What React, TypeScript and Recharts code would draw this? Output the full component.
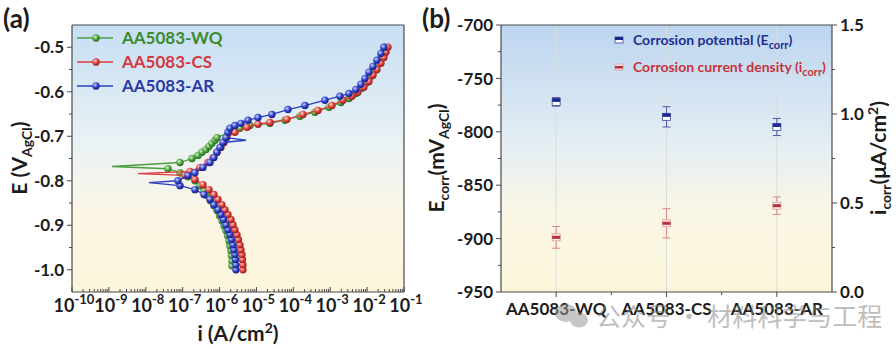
import React from "react";
import {
  ScatterChart,
  ComposedChart,
  Scatter,
  XAxis,
  YAxis,
  CartesianGrid,
  ReferenceLine,
  ErrorBar,
} from "recharts";

// ─── Panel (a): polarization curves, [i (A/cm²), E (V vs AgCl), Ecorr spike] ──
const WQ_CURVE: [number, number, number?][] = [
  [2.17e-6, -0.991], [2.17e-6, -0.98], [2.1e-6, -0.968], [2.04e-6, -0.957],
  [1.91e-6, -0.946], [1.8e-6, -0.935], [1.64e-6, -0.923], [1.49e-6, -0.912],
  [1.32e-6, -0.901], [1.16e-6, -0.89], [9.93e-7, -0.878], [8.51e-7, -0.867],
  [7.05e-7, -0.856], [5.66e-7, -0.845], [4.56e-7, -0.833], [3.78e-7, -0.822],
  [2.94e-7, -0.811], [2.15e-7, -0.8], [1.39e-7, -0.791], [8.45e-8, -0.782],
  [4.0e-8, -0.773], [1.21e-9, -0.768, 1],
  [8.45e-8, -0.759], [1.79e-7, -0.75], [2.6e-7, -0.743], [3.33e-7, -0.736],
  [4.28e-7, -0.73], [5.16e-7, -0.723], [6.22e-7, -0.716], [7.5e-7, -0.709],
  [8.51e-7, -0.703], [1.8e-6, -0.691], [3.57e-6, -0.682], [6.67e-6, -0.676],
  [2.32e-5, -0.671], [5.92e-5, -0.664], [1.51e-4, -0.655], [3.85e-4, -0.646],
  [9.23e-4, -0.635], [1.95e-3, -0.624], [3.21e-3, -0.615], [4.97e-3, -0.604],
  [7.22e-3, -0.592], [9.89e-3, -0.579], [1.27e-2, -0.565], [1.63e-2, -0.552],
  [1.96e-2, -0.538], [2.37e-2, -0.525], [2.68e-2, -0.511], [3.03e-2, -0.5],
];

const CS_CURVE: [number, number, number?][] = [
  [4.31e-6, -1.0], [4.31e-6, -0.989], [4.18e-6, -0.977], [4.05e-6, -0.966],
  [3.8e-6, -0.955], [3.57e-6, -0.944], [3.25e-6, -0.932], [2.96e-6, -0.921],
  [2.61e-6, -0.91], [2.31e-6, -0.899], [2.04e-6, -0.887], [1.69e-6, -0.876],
  [1.4e-6, -0.865], [1.16e-6, -0.854], [9.06e-7, -0.842], [7.05e-7, -0.831],
  [5.16e-7, -0.82], [3.55e-7, -0.809], [2.15e-7, -0.797], [1.15e-7, -0.788],
  [6.15e-9, -0.784, 1],
  [1.58e-7, -0.779], [2.94e-7, -0.77], [4.85e-7, -0.759], [6.62e-7, -0.748],
  [8.51e-7, -0.736], [1.09e-6, -0.725], [1.32e-6, -0.714], [1.59e-6, -0.703],
  [2.61e-6, -0.691], [5.53e-6, -0.68], [1.1e-5, -0.673], [2.32e-5, -0.669],
  [6.71e-5, -0.662], [1.82e-4, -0.651], [4.65e-4, -0.642], [1.11e-3, -0.631],
  [2.21e-3, -0.619], [3.87e-3, -0.61], [5.64e-3, -0.601], [8.18e-3, -0.59],
  [1.12e-2, -0.577], [1.44e-2, -0.563], [1.85e-2, -0.55], [2.37e-2, -0.536],
  [2.85e-2, -0.523], [3.23e-2, -0.511], [3.66e-2, -0.5],
];

const AR_CURVE: [number, number, number?][] = [
  [2.78e-6, -1.0], [2.78e-6, -0.989], [2.7e-6, -0.977], [2.61e-6, -0.966],
  [2.45e-6, -0.955], [2.31e-6, -0.944], [2.1e-6, -0.932], [1.91e-6, -0.921],
  [1.69e-6, -0.91], [1.49e-6, -0.899], [1.28e-6, -0.887], [1.09e-6, -0.876],
  [9.06e-7, -0.865], [7.05e-7, -0.854], [5.5e-7, -0.842], [3.78e-7, -0.831],
  [2.15e-7, -0.82], [8.45e-8, -0.811], [1.22e-8, -0.804, 1],
  [7.46e-8, -0.8], [1.39e-7, -0.788], [2.15e-7, -0.782], [3.55e-7, -0.77],
  [5.5e-7, -0.759], [7.05e-7, -0.748], [8.51e-7, -0.736], [1.03e-6, -0.725],
  [1.24e-6, -0.714], [5.19e-6, -0.709, 1], [1.49e-6, -0.703], [1.69e-6, -0.691],
  [1.91e-6, -0.682], [2.61e-6, -0.676], [3.8e-6, -0.671], [5.89e-6, -0.664],
  [1.1e-5, -0.658], [2.63e-5, -0.651], [7.14e-5, -0.64], [2.06e-4, -0.631],
  [7.18e-4, -0.619], [1.83e-3, -0.61], [3.21e-3, -0.604], [4.97e-3, -0.595],
  [6.79e-3, -0.583], [8.71e-3, -0.57], [1.12e-2, -0.556], [1.44e-2, -0.543],
  [1.85e-2, -0.529], [2.37e-2, -0.514], [2.85e-2, -0.5],
];

const I_DECADES = [-10, -9, -8, -7, -6, -5, -4, -3, -2, -1];
const I_MINOR_STEPS = [2, 3, 4, 5, 6, 7, 8, 9];
const E_TICKS = [
  -1.0, -0.95, -0.9, -0.85, -0.8, -0.75, -0.7, -0.65, -0.6, -0.55, -0.5,
];

// ─── Panel (b): corrosion parameters ─────────────────────────────────────────
const SAMPLES = ["AA5083-WQ", "AA5083-CS", "AA5083-AR"];
const ECORR = [-772, -786, -795.5];
const ECORR_ERR = [4, 9.5, 8];
const ICORR = [0.307, 0.386, 0.485];
const ICORR_ERR = [0.061, 0.082, 0.049];
const ECORR_TICKS = [
  -950, -925, -900, -875, -850, -825, -800, -775, -750, -725, -700,
];
const ICORR_TICKS = [0, 0.25, 0.5, 0.75, 1.0, 1.25, 1.5];

// ─── Styles ───────────────────────────────────────────────────────────────────
const FONT = 'Lato, "Open Sans", "DejaVu Sans", sans-serif';
const INK = "#1c1c1c";
const AXIS = "#4a4a4a";

const SERIES = [
  { name: "AA5083-WQ", data: WQ_CURVE, line: "#4c9e3e", text: "#3d8a2e", grad: "ballG" },
  { name: "AA5083-CS", data: CS_CURVE, line: "#e03c3c", text: "#d43a3e", grad: "ballR" },
  { name: "AA5083-AR", data: AR_CURVE, line: "#2c3cc0", text: "#2c3aa6", grad: "ballB" },
];

const toPoints = (rows: [number, number, number?][]) =>
  rows.map(([i, e, s]) => ({ i, e, spike: s === 1 }));

const isDecade = (v: number) => {
  const p = Math.log10(v);
  return Math.abs(p - Math.round(p)) < 1e-6;
};

// ─── Ticks ────────────────────────────────────────────────────────────────────
function LogTick({ x, y, payload }: any) {
  const v = payload.value;
  const major = isDecade(v);
  return (
    <g>
      <line x1={x} y1={y} x2={x} y2={y - (major ? 5 : 3)} stroke={AXIS} strokeWidth={1} />
      {major && (
        <text x={x + 2} y={y + 20} textAnchor="middle" fontFamily={FONT} fontWeight={700} fontSize={18} fill={INK}>
          10
          <tspan dy={-8} fontSize={13}>
            {Math.round(Math.log10(v))}
          </tspan>
        </text>
      )}
    </g>
  );
}

function ETick({ x, y, payload }: any) {
  const v = payload.value;
  const major = Math.abs(v * 10 - Math.round(v * 10)) < 1e-6;
  return (
    <g>
      <line x1={x} y1={y} x2={x - (major ? 5 : 3)} y2={y} stroke={AXIS} strokeWidth={1} />
      {major && (
        <text x={x - 8} y={y} dy="0.36em" textAnchor="end" fontFamily={FONT} fontWeight={700} fontSize={17} fill={INK}>
          {v.toFixed(1)}
        </text>
      )}
    </g>
  );
}

function SideTick({ x, y, payload, side, step, digits }: any) {
  const v = payload.value;
  const major = Math.abs(v / step - Math.round(v / step)) < 1e-6;
  const dir = side === "left" ? -1 : 1;
  return (
    <g>
      <line x1={x} y1={y} x2={x + dir * (major ? 5 : 3)} y2={y} stroke={AXIS} strokeWidth={1} />
      {major && (
        <text
          x={x + dir * 8}
          y={y}
          dy="0.36em"
          textAnchor={side === "left" ? "end" : "start"}
          fontFamily={FONT}
          fontWeight={700}
          fontSize={17}
          fill={INK}
        >
          {v.toFixed(digits)}
        </text>
      )}
    </g>
  );
}

function CatTick({ x, y, payload }: any) {
  const v = payload.value;
  const center = Math.abs(v - Math.floor(v) - 0.5) < 1e-6;
  return (
    <g>
      <line x1={x} y1={y} x2={x} y2={y + (center ? 5 : 3)} stroke={AXIS} strokeWidth={1} />
      {center && (
        <text x={x} y={y + 23} textAnchor="middle" fontFamily={FONT} fontWeight={700} fontSize={17} fill={INK}>
          {SAMPLES[Math.floor(v)]}
        </text>
      )}
    </g>
  );
}

// ─── Markers ──────────────────────────────────────────────────────────────────
const ballShape = (grad: string) => (props: any) => {
  if (props.payload?.spike) return <g />;
  return <circle cx={props.cx} cy={props.cy} r={3.7} fill={`url(#${grad})`} />;
};

function EcorrMark({ cx, cy }: any) {
  return (
    <g>
      <rect x={cx - 4} y={cy - 3.5} width={8} height={7} fill="#fff" stroke="#3a46a0" strokeWidth={0.8} />
      <rect x={cx - 4} y={cy - 3.5} width={8} height={3.5} fill="#1d2a8c" />
    </g>
  );
}

function IcorrMark({ cx, cy }: any) {
  return (
    <g>
      <rect x={cx - 4} y={cy - 3.5} width={8} height={7} fill="#fbeaea" stroke="#dc9a9a" strokeWidth={0.8} />
      <rect x={cx - 4} y={cy - 1.5} width={8} height={3} fill="#b8303a" />
    </g>
  );
}

// ─── Panels ───────────────────────────────────────────────────────────────────
function PanelA() {
  const iTicks = I_DECADES.flatMap((p) =>
    p < -1 ? [10 ** p, ...I_MINOR_STEPS.map((k) => k * 10 ** p)] : [10 ** p],
  );
  return (
    <ScatterChart width={440} height={350} margin={{ top: 25, right: 36, bottom: 28, left: 22 }}>
      <CartesianGrid fill="url(#bgA)" horizontal={false} vertical={false} />
      <XAxis
        type="number"
        dataKey="i"
        scale="log"
        domain={[1e-10, 1e-1]}
        allowDataOverflow
        ticks={iTicks}
        interval={0}
        tick={(p: any) => <LogTick {...p} />}
        tickLine={false}
        tickSize={0}
        tickMargin={0}
        axisLine={{ stroke: AXIS, strokeWidth: 1.2 }}
        height={30}
      />
      <YAxis
        type="number"
        dataKey="e"
        domain={[-1.05, -0.45]}
        allowDataOverflow
        ticks={E_TICKS}
        interval={0}
        tick={(p: any) => <ETick {...p} />}
        tickLine={false}
        tickSize={0}
        tickMargin={0}
        axisLine={{ stroke: AXIS, strokeWidth: 1.2 }}
        width={50}
      />
      <ReferenceLine y={-0.45} stroke={AXIS} strokeWidth={1.2} />
      <ReferenceLine x={1e-1} stroke={AXIS} strokeWidth={1.2} />
      {SERIES.map((s) => (
        <Scatter
          key={s.name}
          name={s.name}
          data={toPoints(s.data)}
          line={{ stroke: s.line, strokeWidth: 1.3 }}
          lineType="joint"
          shape={ballShape(s.grad)}
          isAnimationActive={false}
        />
      ))}
    </ScatterChart>
  );
}

function PanelB() {
  const catTicks = [0.5, 1, 1.5, 2, 2.5];
  const eData = SAMPLES.map((name, k) => ({ name, x: k + 0.5, ecorr: ECORR[k], err: ECORR_ERR[k] }));
  const iData = SAMPLES.map((name, k) => ({ name, x: k + 0.5, icorr: ICORR[k], err: ICORR_ERR[k] }));
  return (
    <ComposedChart width={456} height={350} margin={{ top: 25, right: 14, bottom: 28, left: 11 }}>
      <CartesianGrid fill="url(#bgB)" horizontal={false} vertical={false} />
      <XAxis
        type="number"
        dataKey="x"
        domain={[0, 3]}
        ticks={catTicks}
        interval={0}
        tick={(p: any) => <CatTick {...p} />}
        tickLine={false}
        tickSize={0}
        tickMargin={0}
        axisLine={{ stroke: AXIS, strokeWidth: 1.2 }}
        height={30}
      />
      <YAxis
        yAxisId="left"
        type="number"
        dataKey="ecorr"
        domain={[-950, -700]}
        ticks={ECORR_TICKS}
        interval={0}
        tick={(p: any) => <SideTick {...p} side="left" step={50} digits={0} />}
        tickLine={false}
        tickSize={0}
        tickMargin={0}
        axisLine={{ stroke: AXIS, strokeWidth: 1.2 }}
        width={50}
      />
      <YAxis
        yAxisId="right"
        orientation="right"
        type="number"
        dataKey="icorr"
        domain={[0, 1.5]}
        ticks={ICORR_TICKS}
        interval={0}
        tick={(p: any) => <SideTick {...p} side="right" step={0.5} digits={1} />}
        tickLine={false}
        tickSize={0}
        tickMargin={0}
        axisLine={{ stroke: AXIS, strokeWidth: 1.2 }}
        width={50}
      />
      {eData.map((d) => (
        <ReferenceLine key={d.name} yAxisId="left" x={d.x} stroke="#dcdcdc" strokeWidth={1} />
      ))}
      <ReferenceLine yAxisId="left" y={-700} stroke={AXIS} strokeWidth={1.2} />
      <Scatter yAxisId="left" name="Ecorr" data={eData} shape={EcorrMark} isAnimationActive={false}>
        <ErrorBar dataKey="err" direction="y" width={4} stroke="#4f5a9c" strokeWidth={1} />
      </Scatter>
      <Scatter yAxisId="right" name="icorr" data={iData} shape={IcorrMark} isAnimationActive={false}>
        <ErrorBar dataKey="err" direction="y" width={4} stroke="#d68a8a" strokeWidth={1} />
      </Scatter>
    </ComposedChart>
  );
}

// ─── Titles, legends and labels ───────────────────────────────────────────────
function Overlay() {
  const t = { fontFamily: FONT, fontWeight: 700, fill: INK } as const;
  return (
    <svg width={896} height={350} style={{ position: "absolute", left: 0, top: 0, pointerEvents: "none" }}>
      <text x={3} y={28} fontSize={26} {...t}>(a)</text>
      <text x={422} y={28} fontSize={26} {...t}>(b)</text>

      {/* panel (a) legend */}
      {SERIES.map((s, k) => {
        const y = 38 + k * 24;
        return (
          <g key={s.name}>
            <line x1={77} y1={y} x2={113} y2={y} stroke={s.line} strokeWidth={1.3} />
            <circle cx={96} cy={y} r={3.7} fill={`url(#${s.grad})`} />
            <text x={122} y={y + 6} fontSize={17} fontFamily={FONT} fontWeight={700} fill={s.text}>
              {s.name}
            </text>
          </g>
        );
      })}

      {/* panel (a) axis titles */}
      <text transform="translate(27,158) rotate(-90)" textAnchor="middle" fontSize={21} {...t}>
        E (V<tspan dy={5} fontSize={14}>AgCl</tspan>
        <tspan dy={-5}>)</tspan>
      </text>
      <text x={238} y={341} textAnchor="middle" fontSize={21} {...t}>
        i (A/cm<tspan dy={-8} fontSize={14}>2</tspan>
        <tspan dy={8}>)</tspan>
      </text>

      {/* panel (b) legend */}
      <rect x={615} y={37} width={8} height={6} fill="#fff" stroke="#3a46a0" strokeWidth={0.8} />
      <rect x={615} y={37} width={8} height={3} fill="#1d2a8c" />
      <text x={633} y={45} fontSize={14} fontFamily={FONT} fontWeight={700} fill="#1f2f8f">
        Corrosion potential (E<tspan dy={4} fontSize={11}>corr</tspan>
        <tspan dy={-4}>)</tspan>
      </text>
      <rect x={615} y={64} width={8} height={6} fill="#fbeaea" stroke="#dc9a9a" strokeWidth={0.8} />
      <rect x={615} y={66} width={8} height={2.5} fill="#b8303a" />
      <text x={633} y={72} fontSize={14} fontFamily={FONT} fontWeight={700} fill="#c8323c">
        Corrosion current density (i<tspan dy={4} fontSize={11}>corr</tspan>
        <tspan dy={-4}>)</tspan>
      </text>

      {/* panel (b) axis titles */}
      <text transform="translate(444,158) rotate(-90)" textAnchor="middle" fontSize={21} {...t}>
        E<tspan dy={5} fontSize={14}>corr</tspan>
        <tspan dy={-5}>(mV</tspan>
        <tspan dy={5} fontSize={14}>AgCl</tspan>
        <tspan dy={-5}>)</tspan>
      </text>
      <text transform="translate(886,158) rotate(-90)" textAnchor="middle" fontSize={21} {...t}>
        i<tspan dy={5} fontSize={14}>corr</tspan>
        <tspan dy={-5}>(μA/cm</tspan>
        <tspan dy={-8} fontSize={14}>2</tspan>
        <tspan dy={8}>)</tspan>
      </text>

      {/* watermark */}
      <g opacity={0.55}>
        <ellipse cx={566} cy={313} rx={11} ry={9} fill="#9a9a9a" />
        <ellipse cx={579} cy={320} rx={9} ry={7.5} fill="#9a9a9a" />
        <text x={596} y={326} fontSize={25} fill="#8a8a8a" fontFamily='"Noto Sans CJK SC", sans-serif'>
          公众号 · 材料科学与工程
        </text>
      </g>
    </svg>
  );
}

export default function App() {
  return (
    <div style={{ position: "absolute", left: 0, top: 0, width: 896, height: 350, background: "#fff", overflow: "hidden" }}>
      <svg width={0} height={0} style={{ position: "absolute" }}>
        <defs>
          <linearGradient id="bgA" x1="0" y1="0" x2="0" y2="1">
            <stop offset="0%" stopColor="#c6def4" />
            <stop offset="45%" stopColor="#eaf2f4" />
            <stop offset="70%" stopColor="#fbf6e6" />
            <stop offset="100%" stopColor="#fcf5da" />
          </linearGradient>
          <linearGradient id="bgB" x1="0" y1="0" x2="0" y2="1">
            <stop offset="0%" stopColor="#bcd5f0" />
            <stop offset="45%" stopColor="#e4eef3" />
            <stop offset="70%" stopColor="#faf6e5" />
            <stop offset="100%" stopColor="#fcf6da" />
          </linearGradient>
          <radialGradient id="ballG" cx="38%" cy="35%" r="65%">
            <stop offset="0%" stopColor="#d8f2cc" />
            <stop offset="55%" stopColor="#4ea63e" />
            <stop offset="100%" stopColor="#2a6a20" />
          </radialGradient>
          <radialGradient id="ballR" cx="38%" cy="35%" r="65%">
            <stop offset="0%" stopColor="#ffd6d2" />
            <stop offset="55%" stopColor="#e2403a" />
            <stop offset="100%" stopColor="#961c1c" />
          </radialGradient>
          <radialGradient id="ballB" cx="38%" cy="35%" r="65%">
            <stop offset="0%" stopColor="#cfd6ff" />
            <stop offset="55%" stopColor="#3142cc" />
            <stop offset="100%" stopColor="#17207c" />
          </radialGradient>
        </defs>
      </svg>
      <div style={{ position: "absolute", left: 0, top: 0 }}>
        <PanelA />
      </div>
      <div style={{ position: "absolute", left: 440, top: 0 }}>
        <PanelB />
      </div>
      <Overlay />
    </div>
  );
}
